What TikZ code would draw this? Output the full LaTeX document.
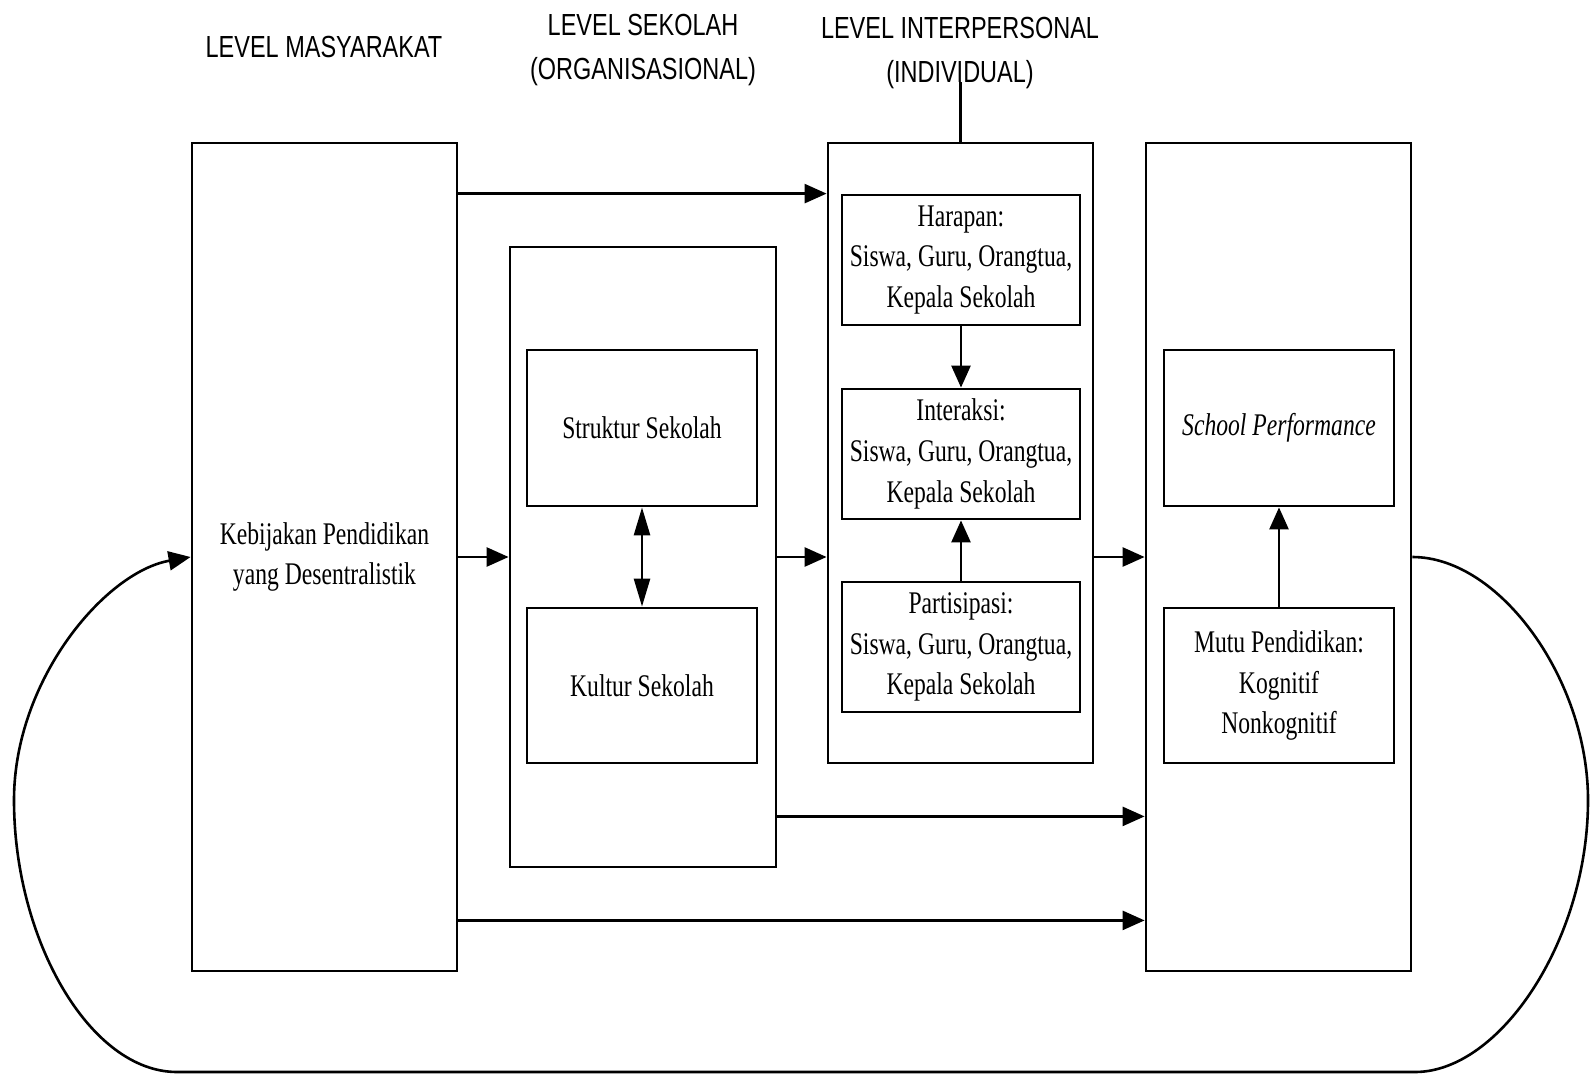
\documentclass[tikz,border=0pt]{standalone}
\usepackage{fontspec}
\setmainfont{Liberation Serif}[FakeStretch=0.75]
\newfontfamily\headfont{Liberation Sans}[FakeStretch=0.77]
\usetikzlibrary{arrows.meta}

\tikzset{
  kotak/.style={draw, line width=2.8pt, align=center, inner sep=0pt,
    font=\fontsize{31.5}{40.6}\selectfont},
  judul/.style={align=center, font=\headfont\fontsize{30.5}{44.5}\selectfont},
  panah/.style={line width=2.6pt, -{Triangle[length=22pt,width=19pt]}},
  panahdua/.style={line width=2.6pt, {Triangle[length=28pt,width=16pt]}-{Triangle[length=28pt,width=16pt]}}
}

\begin{document}
\begin{tikzpicture}[x=1pt,y=-1pt]
\useasboundingbox (0,0) rectangle (1592,1073);

% judul level
\node[judul] (hmasy) at (324,47) {LEVEL MASYARAKAT};
\node[judul] (hsek) at (643,50) {LEVEL SEKOLAH\\(ORGANISASIONAL)};
\node[judul] (hinter) at (960,53) {LEVEL INTERPERSONAL\\(INDIVIDUAL)};

% kotak besar
\node[kotak, minimum width=265, minimum height=828] (kebijakan) at (324.5,557) {Kebijakan Pendidikan\\yang Desentralistik};
\node[kotak, minimum width=266, minimum height=620] (sekolah) at (643,557) {};
\node[kotak, minimum width=265, minimum height=620] (interp) at (960.5,453) {};
\node[kotak, minimum width=265, minimum height=828] (hasil) at (1278.5,557) {};

% isi level sekolah
\node[kotak, minimum width=230, minimum height=156] (struktur) at (642,428) {Struktur Sekolah};
\node[kotak, minimum width=230, minimum height=155] (kultur) at (642,685.5) {Kultur Sekolah};

% isi level interpersonal
\node[kotak, minimum width=238, minimum height=130] (harapan) at (961,260) {Harapan:\\Siswa, Guru, Orangtua,\\Kepala Sekolah};
\node[kotak, minimum width=238, minimum height=130] (interaksi) at (961,454) {Interaksi:\\Siswa, Guru, Orangtua,\\Kepala Sekolah};
\node[kotak, minimum width=238, minimum height=130] (partisipasi) at (961,647) {Partisipasi:\\Siswa, Guru, Orangtua,\\Kepala Sekolah};

% isi hasil
\node[kotak, minimum width=230, minimum height=156] (performa) at (1279,428) {\itshape School Performance};
\node[kotak, minimum width=230, minimum height=155] (mutu) at (1279,685.5) {Mutu Pendidikan:\\Kognitif\\Nonkognitif};

\coordinate (ujung) at (960.5,82);
\draw[line width=2.6pt] (interp.north) -- (ujung);

% panah antar level
\draw[panah] (kebijakan.east |- harapan.north) -- (interp.west |- harapan.north);
\draw[panah] (kebijakan.east) -- (sekolah.west);
\draw[panah] (sekolah.east) -- (sekolah.east -| interp.west);
\draw[panah] (interp.east |- hasil.west) -- (hasil.west);
\draw[panah] (sekolah.south east) ++(0,-52) coordinate (s1) -- (s1 -| hasil.west);
\draw[panah] (kebijakan.south east) ++(0,-52) coordinate (k1) -- (k1 -| hasil.west);

% panah dalam kotak
\draw[panahdua] (struktur.south) -- (kultur.north);
\draw[panah] (harapan.south) -- (interaksi.north);
\draw[panah] (partisipasi.north) -- (interaksi.south);
\draw[panah] (mutu.north) -- (performa.south);

% umpan balik
\draw[panah] (hasil.east) .. controls (1500,557) and (1588,680) .. (1588,800)
  .. controls (1588,940) and (1500,1072) .. (1415,1072) -- (177,1072)
  .. controls (90,1072) and (14,940) .. (14,800)
  .. controls (14,680) and (105,572) .. (kebijakan.west);

\end{tikzpicture}
\end{document}
